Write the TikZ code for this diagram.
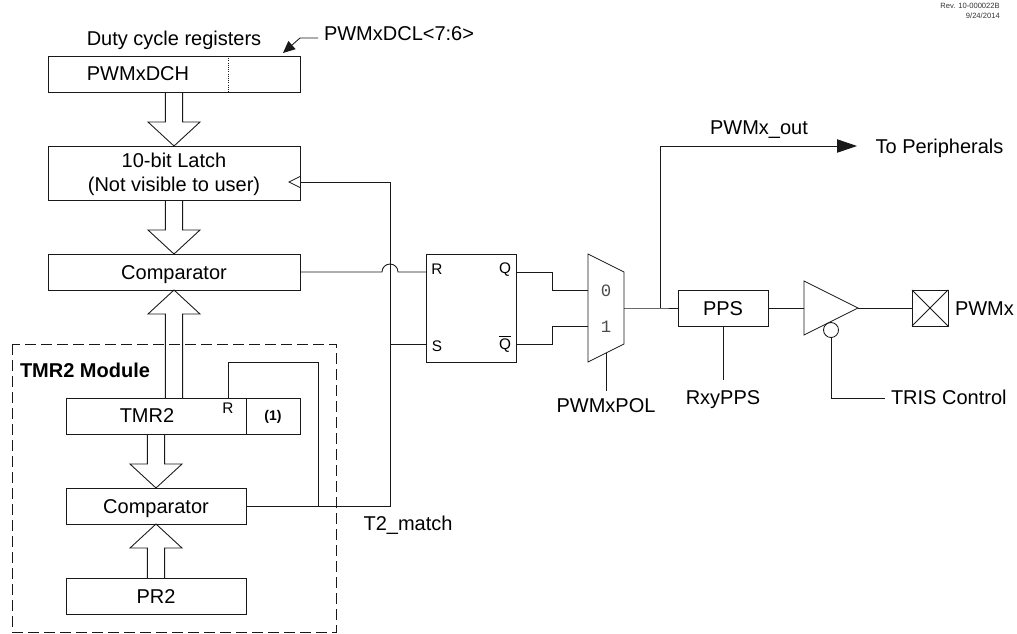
\documentclass[tikz,border=0pt]{standalone}
\usepackage{fontspec}
\setmainfont{Liberation Sans}
\setmonofont{Liberation Mono}
\usetikzlibrary{arrows.meta,calc,shapes.geometric}

\def\px{0.75pt}
\tikzset{
    wire/.style={line width=0.65pt, draw=black!90},
    blockbox/.style={draw=black!90, line width=0.65pt, rectangle, inner sep=0pt, outer sep=0pt, text height=10.7pt, text depth=0pt, font=\fontsize{15}{18}\selectfont},
    txt/.style={inner sep=0pt, outer sep=0pt, text height=10.7pt, text depth=0pt, font=\fontsize{15}{18}\selectfont},
    pinlabel/.style={inner sep=0pt, outer sep=0pt, font=\fontsize{11.5}{14}\selectfont},
}
% hollow bus arrow: tail, tip
\newcommand{\busarrow}[2]{
    \coordinate (hb) at ($(#2)!18pt!(#1)$);
    \draw[wire] ($(#1)!6.5pt!90:(#2)$) -- ($(hb)!6.5pt!90:(#2)$) -- ($(hb)!19.5pt!90:(#2)$)
        -- (#2) -- ($(hb)!19.5pt!-90:(#2)$) -- ($(hb)!6.5pt!-90:(#2)$) -- ($(#1)!6.5pt!-90:(#2)$);
}

\begin{document}
\begin{tikzpicture}[x=0.75pt, y=-0.75pt, >={Triangle[length=15pt,width=10pt]}]
    \useasboundingbox (0,0) rectangle (1017,633);

    % revision
    \node[inner sep=0pt, align=right, anchor=north east, font=\fontsize{5.7}{7.4}\selectfont, text=black!80] (rev) at (1000,3)
        {Rev. 10-000022B\\9/24/2014};

    % duty cycle registers
    \node[txt] (dutylabel) at (174,38) {Duty cycle registers};
    \node[blockbox, minimum width=252*\px, minimum height=36*\px] (dch) at (174,74) {};
    \node[txt] (dchtext) at (138,73) {PWMxDCH};
    \draw[wire, densely dotted] (228,56) -- (228,92);
    \node[txt, anchor=west] (dcllabel) at (324,33) {PWMxDCL<7:6>};
    \coordinate (dcltip) at (283,53);
    \draw[wire, -{Triangle[length=9pt,width=8pt]}] (318,38) -- (300,38) -- (dcltip);

    % latch and comparator
    \node[blockbox, minimum width=252*\px, minimum height=54*\px] (latch) at (174,173) {};
    \node[txt] (latchtop) at (174,160) {10-bit Latch};
    \node[txt] (latchbot) at (174,184) {(Not visible to user)};
    \node[blockbox, minimum width=252*\px, minimum height=36*\px] (comp) at (174,272) {Comparator};
    \busarrow{dch.south}{latch.north}
    \busarrow{latch.south}{comp.north}

    % TMR2 module
    \draw[wire, dashed, dash pattern=on 8pt off 4pt] (12,344) rectangle (336,632);
    \node[txt, anchor=west, font=\fontsize{15}{18}\selectfont\bfseries] (tmrlabel) at (20,370) {TMR2 Module};
    \node[blockbox, minimum width=180*\px, minimum height=36*\px] (tmr) at (156,416) {};
    \node[txt] (tmrtext) at (147,415) {TMR2};
    \node[blockbox, minimum width=54*\px, minimum height=36*\px] (note) at (273,416) {};
    \node[inner sep=0pt, font=\fontsize{10.5}{13}\selectfont\bfseries] (notetext) at (273,417) {(1)};
    \node[pinlabel] (tmrr) at (228,408) {R};
    \node[blockbox, minimum width=180*\px, minimum height=36*\px] (comptwo) at (156,506) {Comparator};
    \node[blockbox, minimum width=180*\px, minimum height=36*\px] (prtwo) at (156,596) {PR2};
    \coordinate (tmrup) at (174,398);
    \busarrow{tmrup}{comp.south}
    \busarrow{tmr.south}{comptwo.north}
    \busarrow{prtwo.north}{comptwo.south}

    % T2_match wiring
    \coordinate (tmrreset) at (228,398);
    \coordinate (matchtap) at (318,506);
    \coordinate (matchup) at (390,506);
    \coordinate (latchclk) at (300,182);
    \draw[wire] (comptwo.east) -- (matchtap) -- (matchup) -- (390,182) -- (latchclk);
    \draw[wire] (matchtap) -- (318,362) -- (228,362) -- (tmrreset);
    \draw[wire] (300,176.5) -- (289,182) -- (300,187.5);
    \node[txt] (matchlabel) at (408,523) {T2\_match};

    % SR latch
    \node[blockbox, minimum width=90*\px, minimum height=108*\px] (ff) at (471,308) {};
    \coordinate (ffr) at (426,272);
    \coordinate (ffs) at (426,344);
    \coordinate (ffq) at (516,272);
    \coordinate (ffqn) at (516,344);
    \node[pinlabel] (rlabel) at (437,269) {R};
    \node[pinlabel] (slabel) at (437,346) {S};
    \node[pinlabel] (qlabel) at (505,270) {Q};
    \node[pinlabel] (qnlabel) at (505,344) {$\overline{\mbox{Q}}$};
    \draw[wire] (comp.east) -- (382,272) arc[start angle=180, end angle=360, radius=8] -- (ffr);
    \draw[wire] (390,344) -- (ffs);

    % polarity mux
    \draw[wire] (588,254) -- (624,272) -- (624,344) -- (588,362) -- cycle;
    \coordinate (muxa) at (588,290);
    \coordinate (muxb) at (588,326);
    \coordinate (muxout) at (624,308);
    \coordinate (muxsel) at (606,353);
    \node[inner sep=0pt, font=\ttfamily\fontsize{13}{15}\selectfont, text=black!70] (zero) at (606,291) {0};
    \node[inner sep=0pt, font=\ttfamily\fontsize{13}{15}\selectfont, text=black!70] (one) at (606,327) {1};
    \node[txt] (pollabel) at (606,405) {PWMxPOL};
    \draw[wire] (ffq) -- (552,272) -- (552,290) -- (muxa);
    \draw[wire] (ffqn) -- (552,344) -- (552,326) -- (muxb);
    \draw[wire] (muxsel) -- (606,391);

    % output path
    \node[blockbox, minimum width=90*\px, minimum height=36*\px] (pps) at (723,308) {PPS};
    \node[txt] (ppslabel) at (723,397) {RxyPPS};
    \draw[wire] (723,326) -- (723,380);
    \coordinate (outtap) at (660,308);
    \draw[wire] (muxout) -- (outtap) -- (pps.west);
    \node[txt] (peri) at (939.5,146) {To Peripherals};
    \node[txt] (outlabel) at (759,127) {PWMx\_out};
    \draw[wire, ->] (outtap) -- (660,146) -- (857,146);

    % buffer and pad
    \draw[wire] (804,281) -- (858,308) -- (804,335) -- cycle;
    \coordinate (bufin) at (804,308);
    \coordinate (bufout) at (858,308);
    \node[draw=black!90, line width=0.65pt, circle, inner sep=0pt, outer sep=0pt, minimum size=15*\px] (bubble) at (831,330) {};
    \node[txt, anchor=west] (tris) at (891,397) {TRIS Control};
    \draw[wire] (bubble.south) -- (831,398) -- (885,398);
    \node[blockbox, minimum width=36*\px, minimum height=36*\px] (pad) at (930,308) {};
    \draw[wire] (pad.north west) -- (pad.south east);
    \draw[wire] (pad.south west) -- (pad.north east);
    \node[txt, anchor=west] (padlabel) at (955,308) {PWMx};
    \draw[wire] (pps.east) -- (bufin);
    \draw[wire] (bufout) -- (pad.west);

\end{tikzpicture}
\end{document}
